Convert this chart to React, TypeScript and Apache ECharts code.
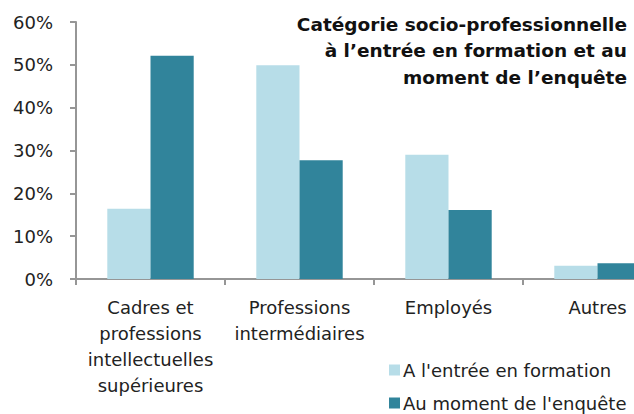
import React, { useEffect, useRef } from "react";
import * as echarts from "echarts";

const categories = [
  "Cadres et\nprofessions\nintellectuelles\nsupérieures",
  "Professions\nintermédiaires",
  "Employés",
  "Autres",
];
const entreeValues = [16.4, 49.9, 29.0, 3.1];
const enqueteValues = [52.1, 27.7, 16.1, 3.7];
const seriesNames = ["A l'entrée en formation", "Au moment de l'enquête"];
const titleLines = ["Catégorie socio-professionnelle", "à l’entrée en formation et au", "moment de l’enquête"];

const FONT = "DejaVu Sans";
const CW = 690;
const CH = 450;

export default function App() {
  const ref = useRef<HTMLDivElement>(null);
  useEffect(() => {
    const chart = echarts.init(ref.current!, null, { renderer: "svg" });
    chart.setOption({
      animation: false,
      graphic: titleLines.map((t, i) => ({
        type: "text",
        x: 627,
        y: 24 + i * 26.5,
        style: {
          text: t,
          align: "right",
          verticalAlign: "middle",
          fontFamily: FONT,
          fontWeight: "bold",
          fontSize: 18.5,
          fill: "#111",
        },
      })),
      legend: {
        orient: "vertical",
        left: 389,
        top: 359,
        padding: 0,
        itemGap: 11,
        itemWidth: 11,
        itemHeight: 11,
        icon: "rect",
        textStyle: { fontFamily: FONT, fontSize: 18, lineHeight: 22, color: "#222", padding: [0, 0, 0, -2] },
        data: seriesNames,
      },
      grid: { left: 76, top: 22, width: 596, height: 257, containLabel: false },
      xAxis: {
        type: "category",
        data: categories,
        axisLine: { lineStyle: { color: "#969696", width: 2 } },
        axisTick: { show: true, length: 6, lineStyle: { color: "#969696", width: 2 } },
        axisLabel: {
          fontFamily: FONT,
          fontSize: 18,
          lineHeight: 26,
          color: "#222",
          margin: 15,
          interval: 0,
        },
      },
      yAxis: {
        type: "value",
        min: 0,
        max: 60,
        interval: 10,
        splitLine: { show: false },
        axisLine: { show: true, lineStyle: { color: "#969696", width: 2 } },
        axisTick: { show: true, length: 6, lineStyle: { color: "#969696", width: 2 } },
        axisLabel: {
          formatter: "{value}%",
          fontFamily: FONT,
          fontSize: 18,
          color: "#222",
          margin: 23,
        },
      },
      series: [
        {
          name: seriesNames[0],
          type: "bar",
          data: entreeValues,
          barGap: "0%",
          barCategoryGap: "42%",
          itemStyle: { color: "#b7dde8" },
        },
        {
          name: seriesNames[1],
          type: "bar",
          data: enqueteValues,
          barGap: "0%",
          barCategoryGap: "42%",
          itemStyle: { color: "#31849b" },
        },
      ],
    });
    return () => chart.dispose();
  }, []);
  return (
    <div style={{ width: 634, height: 414, position: "absolute", left: 0, top: 0, overflow: "hidden" }}>
      <div ref={ref} style={{ width: CW, height: CH }} />
    </div>
  );
}
